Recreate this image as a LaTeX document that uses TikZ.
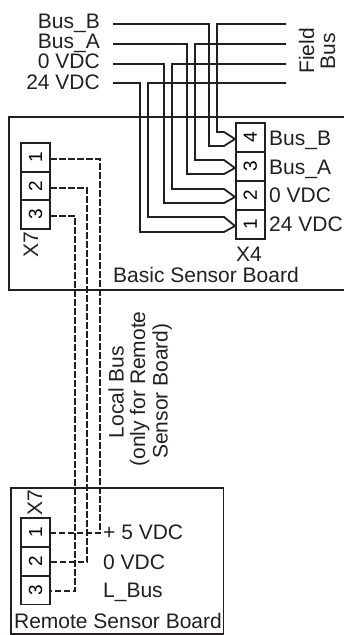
\documentclass[tikz,border=0pt]{standalone}
\usepackage{fontspec}
\setmainfont{Liberation Sans}
\definecolor{ink}{HTML}{231F20}
\tikzset{
  pin/.style={draw=ink,line width=1.7pt,minimum size=28.8pt,inner sep=0pt,rotate=90,font=\fontsize{19}{19}\selectfont},
  wire/.style={draw=ink,line width=1.8pt},
  localwire/.style={draw=ink,line width=1.8pt,dash pattern=on 6.5pt off 2.5pt},
  board/.style={draw=ink,line width=1.8pt},
  lbl/.style={inner sep=0pt,text=ink}
}
\begin{document}
\begin{tikzpicture}[x=1pt,y=-1pt,every node/.style={font=\fontsize{21}{21}\selectfont}]
   \useasboundingbox (0,0) rectangle (344,635);
   % boards
   \draw [board] (344,117) -- (9,117) -- (9,290) -- (344,290);
   \node [board,draw,minimum width=212.5pt,minimum height=146pt,inner sep=0pt] (remote) at (117.25,561) {};
   % field bus side
   \foreach \n/\name/\yw/\yl/\c/\yu/\yd/\yb/\xl/\xr in {4/Bus\_B/24/28/137.5/132/146/145/209/217,3/Bus\_A/44/48.5/166.5/160/174/174.5/187/195,2/0 VDC/64/68.5/195.5/189/203/202.5/164/172,1/24 VDC/83/89/224.5/217/232/231.5/140/148} {
     \node [lbl,anchor=base east] (in\n) at (100,\yl) {\name};
     \coordinate (a\n) at (113,\yw);
     \coordinate (b\n) at (286,\yw);
     \node [pin] (xfour\n) at (250.25,\c) {\n};
     \node [lbl,anchor=base west] (sig\n) at (269,\yb) {\name};
     \draw [wire] (a\n) -| (\xl,\yd) -- (224,\yd) -- ([yshift=-1.5pt]xfour\n.north);
     \draw [wire] (b\n) -| (\xr,\yu) -- (224,\yu) -- ([yshift=-1.5pt]xfour\n.north);
   }
   \node [lbl,rotate=90,anchor=base] (fieldone) at (314,51) {Field};
   \node [lbl,rotate=90,anchor=base] (fieldtwo) at (335,51) {Bus};
   \node [lbl,anchor=base] (xfour) at (249,261.5) {X4};
   \node [lbl,anchor=base] (basic) at (206,282) {Basic Sensor Board};
   % local bus
   \foreach \n/\c/\x/\w/\d/\e/\yb/\name in {1/157.5/100/159/532.5/533/539/+ 5 VDC,2/186/87/188/561.5/562/569.5/0 VDC,3/214.5/75/216/590/591/597/L\_Bus} {
     \node [pin] (xseven\n) at (35.5,\c) {\n};
     \node [pin] (rseven\n) at (35.5,\d) {\n};
     \node [lbl,anchor=base west] (rsig\n) at (103,\yb) {\name};
     \coordinate (top\n) at (50,\w);
     \coordinate (bot\n) at (50,\e);
     \draw [localwire] (top\n) -| (\x,\e) -- (bot\n);
   }
   \node [lbl,rotate=90,anchor=base] (xsevena) at (38,245) {X7};
   \node [lbl,rotate=90,anchor=base] (xsevenb) at (42,503) {X7};
   \node [lbl,rotate=90,anchor=base] (localone) at (123.5,392) {Local Bus};
   \node [lbl,rotate=90,anchor=base] (localtwo) at (145,389) {(only for Remote};
   \node [lbl,rotate=90,anchor=base] (localthree) at (167.5,391) {Sensor Board)};
   \node [lbl,anchor=base] (remotetxt) at (118,628) {Remote Sensor Board};
\end{tikzpicture}
\end{document}
